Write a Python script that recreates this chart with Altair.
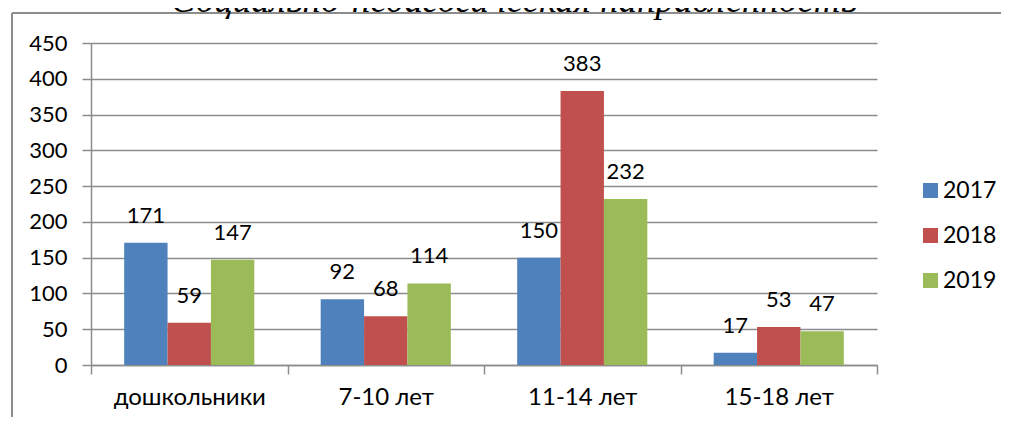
import altair as alt
import pandas as pd

categories = ["дошкольники", "7-10 лет", "11-14 лет", "15-18 лет"]
years = ["2017", "2018", "2019"]
v2017 = [171, 92, 150, 17]
v2018 = [59, 68, 383, 53]
v2019 = [147, 114, 232, 47]
colors = ["#4F81BD", "#C0504D", "#9BBB59"]
y_ticks = [0, 50, 100, 150, 200, 250, 300, 350, 400, 450]
title_text = "Социально-педагогическая направленность"

rows = []
for yr, vals in zip(years, [v2017, v2018, v2019]):
    for c, v in zip(categories, vals):
        rows.append({"cat": c, "year": yr, "value": v})
df = pd.DataFrame(rows)

FONT = "Lato"
GRID = "#8c8c8c"

x_enc = alt.X(
    "cat:N", sort=categories, title=None,
    scale=alt.Scale(paddingInner=0, paddingOuter=0),
    axis=alt.Axis(labelAngle=0, tickBand="extent", tickSize=9, tickColor=GRID, tickWidth=1.5,
                  domainColor=GRID, domainWidth=1.5, labelFont=FONT, labelFontSize=24,
                  labelColor="#000", labelPadding=11, grid=False, labelOverlap=False),
)
y_enc = alt.Y(
    "value:Q", title=None,
    scale=alt.Scale(domain=[0, 450], nice=False, zero=True),
    axis=alt.Axis(values=y_ticks, tickCount=10, tickSize=9, tickColor=GRID, tickWidth=1.5,
                  domainColor=GRID, domainWidth=1.5, grid=True, gridColor=GRID, gridWidth=1.5,
                  labelFont=FONT, labelFontSize=22, labelColor="#000", labelPadding=15,
                  labelOverlap=False),
)
xoff = alt.XOffset("year:N", sort=years, scale=alt.Scale(paddingInner=0, paddingOuter=0.765))

base = alt.Chart(df)
bars = base.mark_bar().encode(
    x=x_enc, y=y_enc, xOffset=xoff,
    color=alt.Color("year:N", sort=years, scale=alt.Scale(domain=years, range=colors),
                    legend=alt.Legend(orient="none", legendX=828, legendY=136, title=None,
                                      symbolType="square", symbolSize=225, symbolStrokeWidth=0,
                                      labelFont=FONT, labelFontSize=23, labelColor="#000",
                                      labelOffset=1, rowPadding=21, padding=0)),
)
labels = base.mark_text(font=FONT, fontSize=22, color="#000", baseline="alphabetic",
                        align="center", dy=-20).encode(
    x=x_enc, y=y_enc, xOffset=xoff,
    text=alt.Text("value:Q"),
)

frame_df = pd.DataFrame({"k": [0]})
frame_top = alt.Chart(frame_df).mark_rule(color=GRID, strokeWidth=2).encode(
    x=alt.value(-79), x2=alt.value(1000), y=alt.value(-30))
frame_left = alt.Chart(frame_df).mark_rule(color=GRID, strokeWidth=2).encode(
    x=alt.value(-79), y=alt.value(-30), y2=alt.value(500))
title_df = pd.DataFrame({"t": [title_text]})
title_mark = alt.Chart(title_df).mark_text(
    font="Liberation Serif", fontStyle="italic", fontSize=37, color="#000",
    align="center", baseline="alphabetic").encode(
    x=alt.value(423), y=alt.value(-31), text="t:N")

chart = alt.layer(frame_top, frame_left, title_mark, bars, labels).properties(
    width=786, height=322,
    autosize=alt.AutoSizeParams(type="none"),
    padding={"left": 83, "top": 35, "right": 124, "bottom": 52},
).configure_view(stroke=None)

chart.save("out.html", embed_options={"renderer": "svg", "actions": False})
